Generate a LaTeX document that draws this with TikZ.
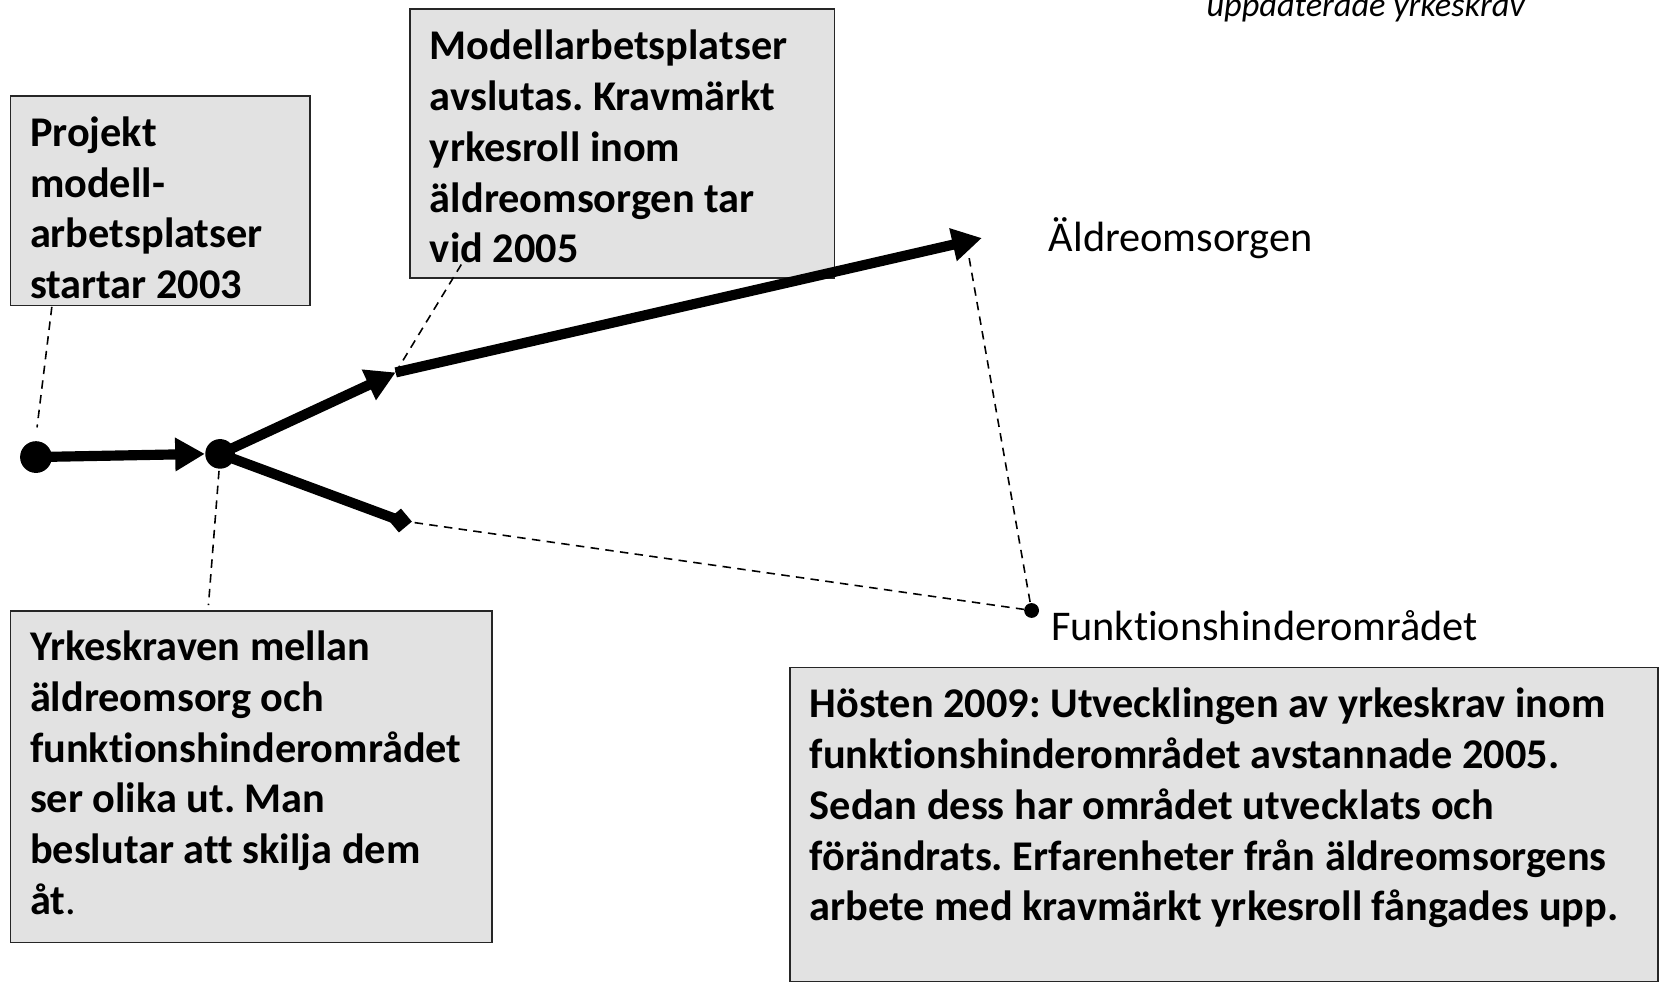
\documentclass[tikz,border=0pt]{standalone}
\usepackage{fontspec}
\setmainfont[Ligatures=NoCommon]{Carlito}
\usetikzlibrary{arrows.meta,shapes.geometric}
\definecolor{boxfill}{RGB}{226,226,226}
\frenchspacing
\tikzset{
  box/.style={draw=black!85, line width=0.8pt, fill=boxfill, inner sep=0pt, anchor=north west},
  btxt/.style={font=\fontsize{20}{24}\selectfont\bfseries, align=left, inner sep=0pt, anchor=north west},
  lbl/.style={font=\fontsize{20}{24}\selectfont, inner sep=0pt, anchor=base west},
  flow/.style={line width=4.8pt, -{Triangle[length=14pt,width=15pt]}},
  branch/.style={line width=4.8pt},
  leader/.style={line width=0.75pt, dash pattern=on 4pt off 3pt},
  bigdot/.style={circle, fill=black, inner sep=0pt},
}
\begin{document}
\begin{tikzpicture}[x=0.5pt,y=-0.5pt]
\useasboundingbox (0,0) rectangle (1568,929);

% boxes
\node[box, minimum width=141.5pt, minimum height=99pt] (b1) at (9,90) {};
\node[box, minimum width=200.5pt, minimum height=127pt] (b2) at (387,8) {};
\node[box, minimum width=227.5pt, minimum height=156.5pt] (b3) at (9,577) {};
\node[box, minimum width=410pt, minimum height=148.5pt] (b4) at (746,630) {};

\node[btxt] (t1) at (28,106) {\rule{0pt}{16pt}Projekt\\modell-\\arbetsplatser\\startar 2003};
\node[btxt] (t2) at (406,24) {\rule{0pt}{16pt}Modellarbetsplatser\\avslutas. Kravmärkt\\yrkesroll inom\\äldreomsorgen tar\\vid 2005};
\node[btxt] (t3) at (28,592) {\rule{0pt}{16pt}Yrkeskraven mellan\\äldreomsorg och\\funktionshinderområdet\\ser olika ut. Man\\beslutar att skilja dem\\åt{\normalfont .}};
\node[btxt] (t4) at (765,646) {\rule{0pt}{16pt}Hösten 2009: Utvecklingen av yrkeskrav inom\\funktionshinderområdet avstannade 2005.\\Sedan dess har området utvecklats och\\förändrats. Erfarenheter från äldreomsorgens\\arbete med kravmärkt yrkesroll fångades upp.};

% labels
\node[lbl] (la) at (991,238) {Äldreomsorgen};
\node[lbl] (lf) at (993,605) {Funktionshinderområdet};
\node[font=\fontsize{16.2}{20}\selectfont\itshape, inner sep=0pt, anchor=base west] (top) at (1140,16) {uppdaterade yrkeskrav};

% timeline nodes
\node[bigdot, minimum size=15pt] (start) at (34,432) {};
\node[bigdot, minimum size=14pt] (junc) at (208,429) {};
\coordinate (mid) at (374,352);
\coordinate (aeld) at (928,225);
\node[rectangle, fill=black, inner sep=0pt, minimum size=8pt, rotate=40] (sq) at (378,492) {};
\node[bigdot, minimum size=7pt] (fdot) at (975,577) {};
\coordinate (dtop) at (916,244);

% thick connectors
\draw[flow] (start.center) -- (junc.west);
\draw[flow] (junc.center) -- (mid);
\draw[flow] (mid) -- (aeld);
\draw[branch] (junc.center) -- (sq.center);

% dashed connectors
\draw[leader] (sq.center) -- (fdot.center);
\draw[leader] (dtop) -- (fdot.center);

% leader lines
\coordinate (l1a) at (49,290);
\coordinate (l1b) at (35,404);
\coordinate (l2a) at (436,250);
\coordinate (l3a) at (207,445);
\coordinate (l3b) at (197,572);
\draw[leader] (l1a) -- (l1b);
\draw[leader] (l2a) -- (mid);
\draw[leader] (l3a) -- (l3b);
\end{tikzpicture}
\end{document}
